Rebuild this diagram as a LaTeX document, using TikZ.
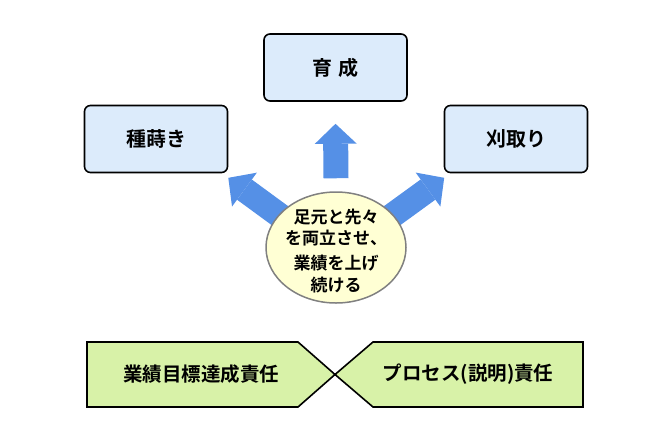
\documentclass[tikz,border=0pt]{standalone}
\usepackage{fontspec}
\setmainfont{Noto Sans CJK JP}[BoldFont=* Bold]
\usetikzlibrary{arrows.meta,calc,shapes.geometric,backgrounds}
\definecolor{boxblue}{HTML}{DCEBFB}
\definecolor{arrowblue}{HTML}{5590E6}
\definecolor{goalyellow}{HTML}{FFFFD4}
\definecolor{dutygreen}{HTML}{D8F2A8}
\definecolor{rimgray}{HTML}{808080}
\begin{document}
\begin{tikzpicture}[x=1pt,y=-1pt,
  stagebox/.style={draw=black,line width=1.6pt,rounded corners=6pt,fill=boxblue,
    minimum width=143pt,minimum height=67pt,font=\fontsize{20}{24}\selectfont\bfseries},
  fatarrow/.style={arrowblue,line width=25pt,-{Triangle[width=42pt,length=20pt,line width=0pt]}},
  dutyshape/.style={draw=black,line width=1.6pt,fill=dutygreen},
  dutytext/.style={font=\fontsize{19.5}{22}\selectfont\bfseries}]
\useasboundingbox (0,0) rectangle (667,424);
\node[stagebox] (seed) at (156,139) {種蒔き};
\node[stagebox] (grow) at (335.5,67.5) {育\,\,成};
\node[stagebox] (reap) at (516,139) {刈取り};
\node[ellipse,draw=rimgray,line width=1.5pt,fill=goalyellow,inner sep=0pt,
  minimum width=140pt,minimum height=111pt] (goal) at (336,247.5) {};
\node[align=center,font=\fontsize{17}{21.5}\selectfont\bfseries] (goaltext)
  at ($(goal.center)+(0,3.5)$) {足元と先々\\を両立させ、\\[3.5pt]業績を上げ\\続ける};
\coordinate (seedfoot) at (290,223);
\coordinate (reapfoot) at (382,223);
\coordinate (seedtip) at ($(seed.south east)+(0,4.5)$);
\coordinate (reaptip) at ($(reap.south west)+(0.5,4.5)$);
\begin{scope}[on background layer]
\draw[fatarrow] (seedfoot) -- (seedtip);
\draw[fatarrow] (reapfoot) -- (reaptip);
\end{scope}
\draw[fatarrow] ($(goal.north)+(0,-13)$) -- ($(grow.south)+(0,22)$);
\coordinate (meet) at (335,374.5);
\draw[dutyshape] (87,342) -- (298,342) -- (meet) -- (298,407) -- (87,407) -- cycle;
\draw[dutyshape] (583,342) -- (373,342) -- (meet) -- (373,407) -- (583,407) -- cycle;
\node[dutytext] (target) at (201,374.5) {業績目標達成責任};
\node[dutytext] (process) at (468,374.5) {プロセス(説明)責任};
\end{tikzpicture}
\end{document}
